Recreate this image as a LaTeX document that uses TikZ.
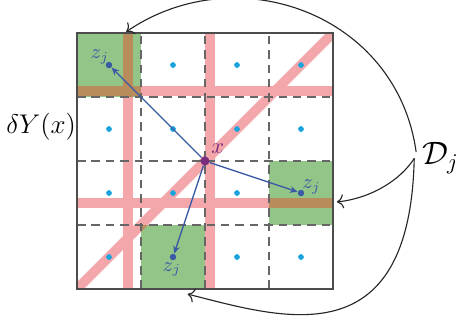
\documentclass[tikz,border=0pt]{standalone}
\usepackage{amsmath,amssymb}
\usetikzlibrary{arrows.meta,calc}
\definecolor{cgreen}{HTML}{93C589}
\definecolor{cpink}{HTML}{F4A7AA}
\definecolor{cbrown}{HTML}{B98C5B}
\definecolor{cdot}{HTML}{1AA3DE}
\definecolor{cblue}{HTML}{3A5AA6}
\definecolor{cpurple}{HTML}{7A2C7F}
\tikzset{
  stripe/.style   = {line width=0.15cm},
  gridline/.style = {draw=black!60, line width=0.55pt, dash pattern=on 3.8pt off 2.6pt},
  cell/.style     = {fill=cgreen},
  ctr/.style      = {fill=cdot, circle, inner sep=0pt, minimum size=0.09cm},
  zpt/.style      = {fill=cblue, circle, inner sep=0pt, minimum size=0.1cm},
  zlab/.style     = {cblue, font=\small, inner sep=0pt},
  vec/.style      = {cblue, line width=0.6pt, -{Stealth[length=3.4pt,width=3pt]}},
  pointer/.style  = {black!85, line width=0.5pt, -{To[length=3pt]}},
}
\newcommand{\stripepaths}[1]{%
  \draw[stripe,#1] (0.8,0) -- (0.8,4);
  \draw[stripe,#1] (2.08,0) -- (2.08,4);
  \draw[stripe,#1] (0,3.09) -- (4,3.09);
  \draw[stripe,#1] (0,1.34) -- (4,1.34);
  \draw[stripe,#1] (0,0) -- (4,4);}
\newcommand{\zlabel}[3]{\node[zlab] at ($(#1)+(#2:#3)$) {$z_j$};}

\begin{document}
\begin{tikzpicture}[x=1cm,y=1cm]
\useasboundingbox (-1.203,-0.516) rectangle (5.969,4.516);
% green cells
\fill[cgreen] (0,3) rectangle (1,4);
\fill[cgreen] (3,1) rectangle (4,2);
\fill[cgreen] (1,0) rectangle (2,1);
% pink stripes, brown where they cross the green cells
\begin{scope}
  \clip (0,0) rectangle (4,4);
  \stripepaths{cpink}
\end{scope}
\begin{scope}
  \clip (0,3) rectangle (1,4) (3,1) rectangle (4,2) (1,0) rectangle (2,1);
  \stripepaths{cbrown}
\end{scope}
% grid
\foreach \k in {1,2,3} {
  \draw[gridline] (\k,0) -- (\k,4);
  \draw[gridline] (0,\k) -- (4,\k);
}
\draw[black!70, line width=0.6pt] (0,0) rectangle (4,4);
% cell centres
\foreach \i in {0,...,3}
  \foreach \j in {0,...,3}
    \node[ctr] at (\i+0.5,\j+0.5) {};
\node[zpt] (z1) at (0.5,3.5) {};
\node[zpt] (z2) at (3.5,1.5) {};
\node[zpt] (z3) at (1.5,0.5) {};
\node[circle, fill=cpurple, inner sep=0pt, minimum size=0.14cm] (x) at (2,2) {};
\node[cpurple] (xlab) at ($(x)+(0.2,0.19)$) {$x$};
\draw[vec] (x) -- (z1);
\draw[vec] (x) -- (z2);
\draw[vec] (x) -- (z3);
\zlabel{z1}{138}{0.19}
\zlabel{z2}{30}{0.19}
\zlabel{z3}{265}{0.19}
\node[font=\large] (dY) at (-0.56,2.53) {$\delta Y(x)$};
\node[font=\Large] (Dj) at (5.68,2.04) {$\mathcal{D}_j$};
% pointers from D_j
\coordinate (tipA) at (0.77,4.02);
\coordinate (tipB) at (4.06,1.36);
\coordinate (tipC) at (1.73,-0.08);
\draw[pointer] ($(Dj.west)+(0.03,0.1)$) .. controls (5.0,4.3) and (2.5,5.2) .. (tipA);
\draw[pointer] (Dj.west) .. controls (5.05,1.7) and (4.6,1.42) .. (tipB);
\draw[pointer] (Dj.west) .. controls (5.2,-1.1) and (3.2,-0.45) .. (tipC);
\end{tikzpicture}
\end{document}
